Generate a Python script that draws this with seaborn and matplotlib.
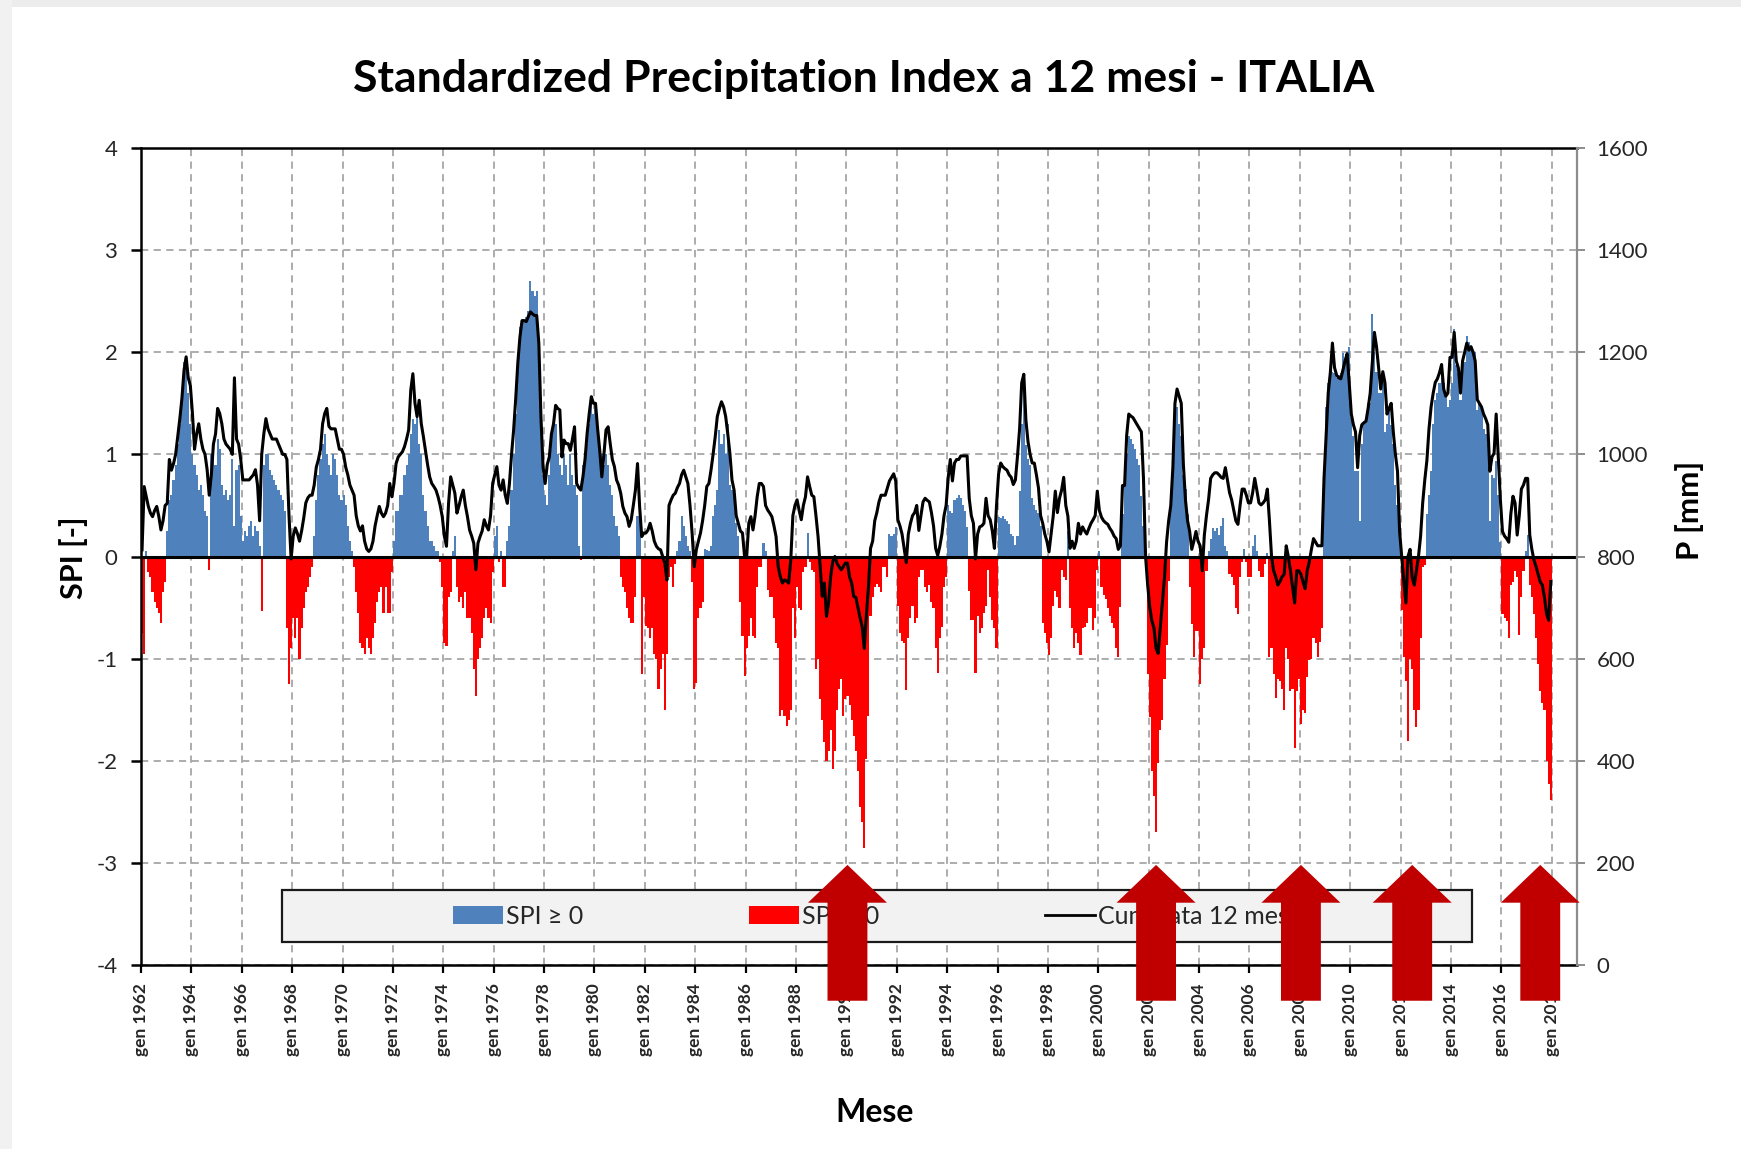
import numpy as np
import pandas as pd
import matplotlib
matplotlib.use("Agg")
import matplotlib.pyplot as plt
import seaborn as sns
from matplotlib.patches import FancyArrow, Rectangle, Patch
from matplotlib.lines import Line2D

# ---------------- DATA (monthly, Jan 1962 - Dec 2017) ----------------
spi_1962_69 = [
    -0.75, -0.95, 0.05, -0.15, -0.2, -0.35, -0.45, -0.5, -0.55, -0.65, -0.35, -0.25,
    0.25, 0.55, 0.6, 0.75, 0.9, 1.1, 1.3, 1.5, 1.9, 1.85, 1.6, 1.3,
    1.0, 0.9, 0.8, 0.65, 0.7, 0.6, 0.45, 0.4, -0.13, 1.0, 1.1, 0.9,
    1.15, 1.05, 0.7, 0.6, 0.65, 0.55, 0.6, 0.95, 0.3, 0.85, 0.9, 0.4,
    0.15, 0.25, 0.2, 0.3, 0.35, 0.2, 0.3, 0.25, 0.1, -0.53, 0.9, 1.0,
    1.0, 0.85, 0.8, 0.75, 0.7, 0.65, 0.6, 0.55, 0.45, -0.7, -1.25, -0.9,
    -0.6, -0.8, -0.6, -1.0, -0.7, -0.5, -0.35, -0.3, -0.2, -0.1, 0.2, 0.55,
    0.8, 0.95, 1.1, 1.2, 1.0, 0.9, 0.8, 1.0, 0.95, 0.8, 0.6, 0.55,
]
spi_1970s = [
    0.6, 0.5, 0.3, 0.15, 0.05, -0.1, -0.35, -0.55, -0.85, -0.9, -0.95, -0.8,
    -0.9, -0.95, -0.8, -0.65, -0.45, -0.35, -0.3, -0.55, -0.3, -0.55, -0.55, -0.15,
    0.15, 0.45, 0.45, 0.6, 0.6, 0.8, 0.9, 1.0, 1.2, 1.35, 1.3, 1.4,
    1.1, 1.0, 0.6, 0.45, 0.3, 0.15, 0.15, 0.1, 0.05, 0.05, -0.05, -0.3,
    -0.85, -0.88, -0.4, -0.35, 0.05, 0.2, -0.3, -0.45, -0.4, -0.5, -0.35, -0.6,
    -0.6, -0.75, -1.1, -1.37, -1.0, -0.9, -0.8, -0.6, -0.5, -0.6, -0.65, -0.15,
    0.2, 0.3, -0.05, 0.05, -0.3, -0.3, 0.15, 0.3, 0.65, 1.0, 1.4, 1.85,
    2.25, 2.3, 2.3, 2.35, 2.4, 2.7, 2.6, 2.55, 2.6, 2.1, 1.4, 0.8,
    0.6, 0.5, 0.8, 1.2, 1.3, 1.3, 1.0, 0.9, 0.8, 1.0, 0.9, 0.7,
    1.0, 0.8, 0.7, 0.6, 0.1, -0.03, 0.9, 0.9, 1.1, 1.3, 1.5, 1.4,
]
spi_1980s = [
    1.5, 1.2, 1.0, 1.0, 0.9, 1.0, 0.9, 0.7, 0.6, 0.4, 0.3, 0.2,
    -0.2, -0.3, -0.35, -0.5, -0.6, -0.65, -0.65, -0.4, 0.4, 0.35, -1.15, -0.4,
    -0.68, -0.7, -0.8, -0.7, -0.95, -1.0, -1.3, -1.1, -0.95, -1.5, -0.95, -0.2,
    -0.1, -0.3, -0.07, 0.05, 0.15, 0.4, 0.3, 0.2, 0.1, 0.05, -0.25, -1.3,
    -1.24, -0.6, -0.5, -0.45, 0.07, 0.06, 0.05, 0.1, 0.4, 0.5, 0.65, 1.24,
    1.1, 1.2, 1.0, 1.3, 0.7, 0.65, 0.6, 0.33, 0.2, -0.45, -0.78, -1.17,
    -0.9, -0.78, -0.6, -0.78, -0.8, -0.3, -0.1, -0.1, 0.13, 0.05, -0.33, -0.4,
    -0.4, -0.6, -0.85, -0.9, -1.56, -1.5, -1.56, -1.66, -1.6, -1.5, -0.5, -0.8,
    -0.3, -0.5, -0.52, -0.15, -0.1, 0.23, -0.05, -0.13, -0.15, -1.1, -1.0, -1.4,
    -1.6, -1.82, -2.0, -1.9, -1.7, -2.08, -1.9, -1.5, -1.3, -1.2, -1.56, -1.4,
]
spi_1990s = [
    -1.37, -1.45, -1.6, -1.76, -1.9, -2.1, -2.45, -2.6, -2.85, -1.98, -1.56, -0.58,
    -0.4, -0.3, -0.27, -0.3, -0.35, -0.1, -0.1, -0.2, 0.22, 0.2, 0.22, 0.29,
    -0.48, -0.75, -0.83, -0.85, -1.31, -0.8, -0.6, -0.48, -0.65, -0.6, -0.2, -0.13,
    -0.13, -0.3, -0.35, -0.28, -0.45, -0.5, -0.9, -1.14, -0.8, -0.69, -0.3, -0.2,
    0.5, 0.45, 0.43, 0.55, 0.57, 0.6, 0.57, 0.5, 0.45, 0.29, -0.34, -0.62,
    -0.62, -1.14, -0.58, -0.75, -0.7, -0.55, -0.48, -0.13, -0.4, -0.62, -0.7, -0.9,
    0.39, 0.38, 0.4, 0.37, 0.35, 0.32, 0.22, 0.2, 0.11, 0.2, 0.64, 1.3,
    1.75, 1.09, 0.95, 0.9, 0.57, 0.5, 0.46, 0.43, 0.3, -0.65, -0.75, -0.85,
    -0.96, -0.8, -0.48, -0.34, -0.4, -0.5, -0.13, -0.2, -0.23, 0.25, -0.5, -0.7,
    -0.9, -0.75, -0.85, -0.96, -0.7, -0.69, -0.65, -0.5, -0.5, -0.72, -0.6, -0.13,
]
spi_2000s = [
    0.05, -0.3, -0.38, -0.42, -0.5, -0.58, -0.65, -0.7, -0.9, -0.98, -0.49, 0.42,
    0.9, 1.0, 1.18, 1.15, 1.1, 1.05, 0.95, 0.9, 0.59, 0.3, -0.05, -1.15,
    -1.57, -2.1, -2.35, -2.7, -2.02, -1.7, -1.6, -1.2, -0.87, -0.24, 0.49, 1.0,
    1.36, 1.46, 1.3, 1.18, 0.8, 0.66, 0.42, -0.3, -0.66, -0.98, -0.73, -0.73,
    -1.25, -1.0, -0.9, -0.14, 0.05, 0.17, 0.28, 0.25, 0.28, 0.21, 0.3, 0.38,
    0.1, 0.05, -0.17, -0.2, -0.28, -0.5, -0.56, -0.2, -0.05, 0.07, -0.05, -0.2,
    -0.2, 0.1, 0.21, 0.05, -0.14, -0.2, -0.2, -0.07, 0.03, -0.98, -0.9, -1.15,
    -1.39, -1.2, -1.22, -1.3, -1.5, -0.9, -1.0, -1.32, -1.3, -1.88, -1.32, -1.2,
    -1.64, -1.5, -1.53, -1.18, -1.01, -1.0, -0.8, -0.85, -0.98, -0.84, -0.7, 0.77,
    1.46, 1.7, 1.78, 1.81, 1.8, 1.75, 1.78, 1.8, 1.99, 1.9, 2.0, 2.05,
]
spi_2010_17 = [
    1.36, 1.18, 0.84, 0.84, 0.35, 1.1, 1.3, 1.36, 1.5, 1.5, 2.37, 2.0,
    1.81, 1.6, 1.6, 1.74, 1.22, 1.3, 1.46, 1.29, 1.1, 0.7, 0.5, 0.24,
    -0.52, -0.98, -1.22, -1.81, -1.0, -1.1, -1.5, -1.67, -1.5, -0.8, -0.1, -0.08,
    0.42, 0.6, 0.84, 1.3, 1.53, 1.6, 1.7, 1.88, 1.7, 1.6, 1.46, 1.53,
    1.7, 2.23, 1.88, 1.8, 1.53, 1.88, 1.9, 2.16, 2.1, 2.05, 2.0, 2.0,
    1.43, 1.5, 1.45, 1.25, 1.2, 1.1, 0.35, 0.8, 0.77, 0.94, 0.6, 0.14,
    -0.56, -0.6, -0.63, -0.8, -0.28, -0.25, -0.14, -0.2, -0.77, -0.4, -0.14, 0.05,
    0.21, -0.28, -0.4, -0.56, -0.8, -1.05, -1.32, -1.43, -1.5, -2.0, -2.23, -2.38,
]

# 12-month cumulated precipitation (mm)
p_1962_69 = [
    813, 937, 917, 898, 885, 878, 890, 898, 878, 852, 870, 900,
    904, 990, 969, 982, 1000, 1035, 1070, 1110, 1165, 1191, 1150, 1135,
    1080, 1010, 1040, 1060, 1030, 1010, 1000, 970, 920, 960, 1020, 1040,
    1090, 1080, 1060, 1030, 1020, 1015, 1010, 1000, 1150, 1030, 1020, 990,
    950, 950, 950, 950, 955, 960, 970, 940, 870, 1000, 1040, 1070,
    1050, 1040, 1030, 1030, 1030, 1020, 1010, 1000, 1000, 990, 880, 795,
    840, 856, 845, 830, 850, 875, 905, 915, 920, 920, 940, 975,
    990, 1010, 1060, 1080, 1090, 1055, 1050, 1050, 1050, 1030, 1010, 1010,
]
p_1970s = [
    1000, 975, 960, 940, 930, 920, 880, 860, 850, 860, 830, 815,
    810, 815, 830, 860, 880, 898, 885, 878, 885, 900, 943, 917,
    943, 982, 995, 1000, 1005, 1015, 1030, 1048, 1126, 1158, 1100, 1074,
    1106, 1060, 1035, 1008, 980, 956, 943, 937, 930, 917, 900, 878,
    840, 820, 904, 956, 940, 924, 885, 900, 917, 930, 900, 878,
    852, 840, 826, 774, 826, 839, 850, 872, 860, 852, 880, 943,
    960, 976, 940, 930, 950, 920, 904, 943, 1000, 1048, 1110, 1180,
    1230, 1262, 1262, 1260, 1270, 1279, 1275, 1272, 1272, 1217, 1074, 976,
    943, 980, 995, 1040, 1060, 1096, 1090, 1087, 995, 1028, 1021, 1021,
    1008, 1030, 1054, 943, 935, 930, 956, 990, 1041, 1080, 1113, 1100,
]
p_1980s = [
    1100, 1050, 1008, 956, 1000, 1048, 1054, 1021, 990, 976, 950, 940,
    924, 898, 885, 878, 859, 872, 900, 930, 982, 898, 839, 846,
    846, 852, 865, 850, 830, 820, 815, 813, 800, 787, 754, 900,
    911, 920, 924, 935, 943, 960, 969, 956, 943, 900, 846, 780,
    813, 830, 846, 870, 900, 937, 943, 969, 1000, 1034, 1074, 1090,
    1103, 1093, 1074, 1040, 1002, 950, 930, 880, 865, 850, 846, 800,
    800, 865, 878, 852, 880, 917, 943, 943, 937, 900, 891, 885,
    878, 860, 839, 780, 761, 748, 754, 752, 748, 794, 880, 900,
    911, 890, 872, 900, 917, 956, 937, 920, 917, 880, 839, 780,
    722, 748, 683, 709, 761, 790, 800, 787, 780, 774, 780, 787,
]
p_1990s = [
    787, 760, 748, 722, 720, 700, 680, 663, 620, 684, 740, 816,
    830, 870, 886, 907, 920, 920, 920, 934, 948, 955, 962, 948,
    872, 860, 844, 816, 788, 844, 865, 880, 886, 900, 851, 880,
    907, 914, 910, 907, 886, 860, 816, 802, 820, 844, 880, 900,
    955, 990, 948, 983, 990, 990, 997, 997, 997, 997, 914, 880,
    865, 795, 844, 858, 860, 865, 914, 880, 872, 850, 816, 900,
    962, 983, 976, 972, 969, 960, 955, 941, 950, 997, 1050, 1140,
    1157, 1067, 1025, 1000, 983, 983, 960, 934, 880, 865, 844, 830,
    809, 844, 879, 928, 886, 914, 930, 955, 900, 879, 816, 830,
    816, 830, 865, 844, 858, 850, 844, 855, 865, 872, 880, 928,
]
p_2000s = [
    890, 877, 870, 866, 863, 855, 849, 840, 835, 814, 821, 939,
    939, 1037, 1079, 1075, 1072, 1065, 1058, 1051, 1044, 953, 800, 744,
    700, 674, 660, 620, 610, 661, 709, 758, 828, 870, 900, 974,
    1100, 1128, 1114, 1100, 981, 911, 870, 849, 814, 830, 849, 830,
    821, 772, 842, 880, 911, 953, 960, 964, 964, 960, 955, 953,
    974, 950, 925, 911, 890, 870, 863, 900, 932, 932, 920, 905,
    905, 925, 953, 930, 905, 901, 905, 911, 932, 870, 800, 772,
    760, 744, 751, 760, 765, 821, 800, 772, 740, 709, 772, 772,
    765, 750, 737, 772, 790, 814, 835, 828, 821, 821, 821, 953,
    1037, 1120, 1160, 1218, 1170, 1155, 1150, 1148, 1165, 1183, 1197, 1140,
]
p_2010_17 = [
    1079, 1058, 1044, 974, 1037, 1058, 1062, 1065, 1090, 1120, 1180, 1239,
    1211, 1169, 1128, 1162, 1141, 1079, 1090, 1100, 1044, 1000, 967, 849,
    800, 751, 709, 800, 814, 758, 744, 772, 800, 840, 905, 950,
    988, 1050, 1093, 1120, 1141, 1148, 1160, 1176, 1128, 1114, 1120, 1190,
    1190, 1239, 1183, 1169, 1120, 1183, 1200, 1218, 1204, 1211, 1200, 1183,
    1107, 1100, 1093, 1079, 1070, 1058, 967, 995, 1002, 1079, 995, 911,
    849, 840, 835, 828, 884, 918, 905, 842, 880, 932, 940, 953,
    953, 842, 814, 793, 780, 765, 750, 744, 720, 688, 675, 751,
]

first_year = 1962
axis_years = list(range(1962, 2019))          # category axis spans 1962-2018
tick_years = list(range(1962, 2019, 2))
tick_labels = [f"gen {y}" for y in tick_years]
spi_ticks = list(range(-4, 5))
p_ticks = list(range(0, 1601, 200))
arrow_dates = ["1990-01", "2002-04", "2008-01", "2012-06", "2017-07"]

legend_labels = ["SPI \u2265 0", "SPI < 0", "Cumulata 12 mesi"]
title = "Standardized Precipitation Index a 12 mesi - ITALIA"

# ---------------- BUILD ----------------
spi = np.concatenate([spi_1962_69, spi_1970s, spi_1980s, spi_1990s, spi_2000s, spi_2010_17])
prec = np.concatenate([p_1962_69, p_1970s, p_1980s, p_1990s, p_2000s, p_2010_17])
n = len(spi)
df = pd.DataFrame({"mese": np.arange(n), "SPI": spi, "P": prec})
df["segno"] = np.where(df["SPI"] >= 0, legend_labels[0], legend_labels[1])

BLUE = "#4f81bd"
RED = "#ff0000"
ARROW = "#c00000"
palette = {legend_labels[0]: BLUE, legend_labels[1]: RED}

FONT = ["Lato", "DejaVu Sans"]
plt.rcParams["font.family"] = FONT

W, H = 1741, 1149
fig = plt.figure(figsize=(W / 100, H / 100), dpi=100)
fig.patch.set_facecolor("white")
# light screenshot frame
fig.add_artist(Rectangle((0, 1 - 7 / H), 1, 7 / H, transform=fig.transFigure,
                         color="#ececec", zorder=0, lw=0))
fig.add_artist(Rectangle((0, 0), 12 / W, 1, transform=fig.transFigure,
                         color="#f1f1f1", zorder=0, lw=0))

ax = fig.add_axes([141 / W, 1 - 965 / H, 1436 / W, 817 / H])
ax.set_facecolor("none")

sns.barplot(data=df, x="mese", y="SPI", hue="segno", palette=palette,
            native_scale=True, dodge=False, width=1.0, saturation=1,
            errorbar=None, legend=False, linewidth=0, ax=ax)

ax2 = ax.twinx()
sns.lineplot(data=df, x="mese", y="P", color="black", lw=2.2, ax=ax2, legend=False)

n_axis = len(axis_years) * 12
ax.set_xlim(-0.5, n_axis - 0.5)
ax.set_ylim(-4, 4)
ax2.set_ylim(0, 1600)

ticks_x = [(y - first_year) * 12 - 0.5 for y in tick_years]
ax.set_xticks(ticks_x)
ax.set_xticklabels(tick_labels, rotation=90, fontsize=12.5, fontweight="bold",
                   color="#262626", va="top")
ax.set_yticks(spi_ticks)
ax.set_yticklabels([str(v) for v in spi_ticks], fontsize=16, color="#262626")
ax2.set_yticks(p_ticks)
ax2.set_yticklabels([str(v) for v in p_ticks], fontsize=16, color="#262626")

ax.set_xlabel("")
ax.set_ylabel("")
ax2.set_ylabel("")

ax.set_axisbelow(True)
ax.grid(True, axis="both", color="#a6a6a6", linestyle=(0, (4, 3)), lw=1.3)
ax2.grid(False)
ax.axhline(0, color="black", lw=2.2, zorder=4)

for s in ["left", "top", "bottom"]:
    ax.spines[s].set_color("black")
    ax.spines[s].set_linewidth(1.8)
ax.spines["right"].set_visible(False)
for s in ["left", "top", "bottom"]:
    ax2.spines[s].set_visible(False)
ax2.spines["right"].set_color("#8c8c8c")
ax2.spines["right"].set_linewidth(1.6)

ax.tick_params(axis="y", direction="out", length=7, width=1.8, pad=10, colors="black",
               labelcolor="#262626")
ax.tick_params(axis="x", direction="out", length=6, width=1.6, pad=7, colors="black",
               labelcolor="#262626")
ax2.tick_params(axis="y", direction="out", length=6, width=1.4, pad=8, colors="#8c8c8c",
                labelcolor="#262626")

# titles
fig.text(864 / W, 1 - 79 / H, title, ha="center", va="center", fontsize=32,
         fontweight="bold", color="black")
fig.text(875 / W, 1 - 1112 / H, "Mese", ha="center", va="center", fontsize=23,
         fontweight="bold", color="black")
fig.text(74 / W, 1 - 558 / H, "SPI [-]", ha="center", va="center", rotation=90,
         fontsize=22, fontweight="bold", color="black")
fig.text(1690 / W, 1 - 510 / H, "P [mm]", ha="center", va="center", rotation=90,
         fontsize=22.5, fontweight="bold", color="black")

# legend box
fig.add_artist(Rectangle((282 / W, 1 - 942 / H), 1190 / W, 52 / H,
                         transform=fig.transFigure, facecolor="#f2f2f2",
                         edgecolor="#1a1a1a", lw=1.6, zorder=4))
handles = [Patch(facecolor=BLUE, edgecolor="none"),
           Patch(facecolor=RED, edgecolor="none"),
           Line2D([0], [0], color="black", lw=2.0)]
leg = fig.legend(handles, legend_labels, loc="center",
                 bbox_to_anchor=(874 / W, 1 - 916 / H), ncol=3, frameon=False,
                 fontsize=18, handlelength=2.0, handleheight=0.7,
                 handletextpad=0.15, columnspacing=6.6)
leg.set_zorder(5)
for t in leg.get_texts():
    t.set_color("#262626")

# red block arrows
for d in arrow_dates:
    yy, mm = d.split("-")
    m = (int(yy) - first_year) * 12 + int(mm) - 1
    fig.add_artist(FancyArrow(m, -4.35, 0, 1.33, width=19, head_width=37.6,
                              head_length=0.37, length_includes_head=True,
                              transform=ax.transData, color=ARROW, lw=0,
                              zorder=10, clip_on=False))

fig.savefig("out.png", dpi=100)
